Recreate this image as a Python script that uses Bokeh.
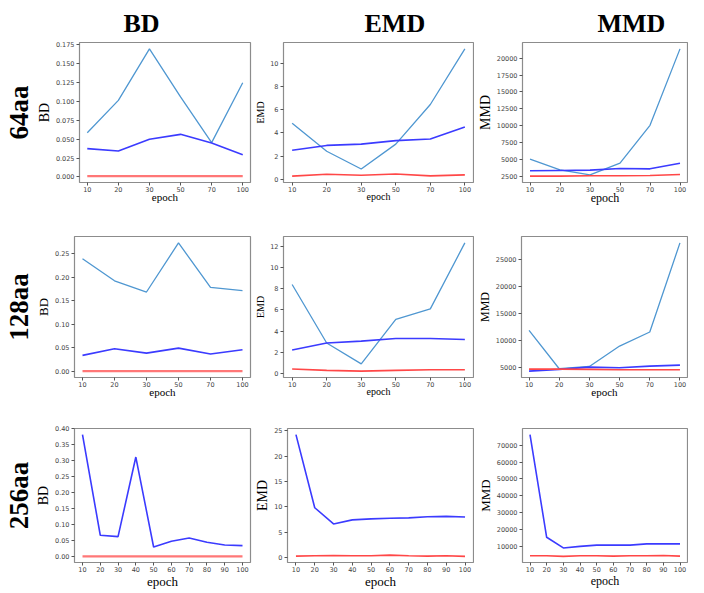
from bokeh.plotting import figure
from bokeh.layouts import column, row
from bokeh.models import (Range1d, FixedTicker, SingleIntervalTicker,
                          PrintfTickFormatter, LinearAxis)
from bokeh.embed import file_html
from bokeh.resources import INLINE

col_titles = ["BD", "EMD", "MMD"]
row_titles = ["64aa", "128aa", "256aa"]

epochs_short = [10, 20, 30, 50, 70, 100]
epochs_long = [10, 20, 30, 40, 50, 60, 70, 80, 90, 100]

# ---- 64aa ----
bd64_light = [0.0586, 0.1014, 0.1697, 0.1060, 0.0454, 0.1248]
bd64_blue = [0.0375, 0.0344, 0.0498, 0.0564, 0.0450, 0.0295]
bd64_red = [0.001, 0.001, 0.001, 0.001, 0.001, 0.001]
emd64_light = [4.83, 2.42, 0.89, 3.03, 6.44, 11.22]
emd64_blue = [2.50, 2.92, 3.03, 3.33, 3.47, 4.50]
emd64_red = [0.28, 0.44, 0.36, 0.47, 0.30, 0.39]
mmd64_light = [5056, 3483, 2746, 4466, 10071, 21379]
mmd64_blue = [3336, 3385, 3434, 3680, 3630, 4466]
mmd64_red = [2550, 2550, 2600, 2600, 2650, 2795]

# ---- 128aa ----
bd128_light = [0.2395, 0.1926, 0.1688, 0.2730, 0.1786, 0.1716]
bd128_blue = [0.0343, 0.0483, 0.0392, 0.0497, 0.0371, 0.0462]
bd128_red = [0.001, 0.001, 0.001, 0.001, 0.001, 0.001]
emd128_light = [8.39, 2.88, 0.92, 5.11, 6.09, 12.30]
emd128_blue = [2.23, 2.88, 3.06, 3.31, 3.31, 3.21]
emd128_red = [0.43, 0.31, 0.24, 0.31, 0.37, 0.37]
mmd128_light = [11811, 4690, 5124, 8901, 11502, 28034]
mmd128_blue = [4257, 4567, 5000, 4876, 5186, 5372]
mmd128_red = [4628, 4628, 4567, 4505, 4505, 4505]

# ---- 256aa ----
bd256_blue = [0.381, 0.067, 0.0628, 0.311, 0.0304, 0.0482, 0.0586, 0.045, 0.0366, 0.0346]
bd256_red = [0.001, 0.001, 0.001, 0.001, 0.001, 0.001, 0.001, 0.001, 0.001, 0.001]
emd256_blue = [24.2, 9.85, 6.67, 7.48, 7.67, 7.79, 7.86, 8.10, 8.17, 8.04]
emd256_red = [0.37, 0.44, 0.50, 0.44, 0.44, 0.56, 0.44, 0.37, 0.44, 0.31]
mmd256_blue = [76200, 15556, 9259, 10185, 10926, 10926, 10926, 11667, 11667, 11667]
mmd256_red = [4630, 4630, 4259, 4630, 4630, 4444, 4630, 4630, 4815, 4444]

LIGHT = "#4f97d1"
BLUE = "#3b3bff"
RED = "#ff4747"
RED_BD = "#ff7777"

SERIF = "Liberation Serif"
SANS = "DejaVu Sans"

col_w = [252, 222, 214]
row_h = [213, 192, 186]
# borders (left, right, top, bottom)
borders = [
    [(68, 2, 42, 30), (25, 1, 42, 27), (43, 1, 42, 31)],
    [(63, 2, 20, 28), (26, 1, 20, 28), (42, 1, 23, 28)],
    [(63, 2, 22, 24), (31, 1, 23, 24), (41, 1, 21, 23)],
]
title_offsets = [44, 81, 75]
ylabel_sizes = [["14px", "10px", "14px"], ["13px", "10px", "12px"], ["14px", "14px", "13px"]]
xlabel_sizes = [["11px", "10px", "12px"], ["11px", "10px", "11px"], ["13px", "13px", "12px"]]
xlabel_standoff = [-4, -4, -1]
y_intervals = [[0.025, 2, 2500], [0.05, 2, 5000], [0.05, 5, 10000]]
y_formats = [["%.3f", "%d", "%d"], ["%.2f", "%d", "%d"], ["%.2f", "%d", "%d"]]

data = [
    [(bd64_light, bd64_blue, bd64_red), (emd64_light, emd64_blue, emd64_red), (mmd64_light, mmd64_blue, mmd64_red)],
    [(bd128_light, bd128_blue, bd128_red), (emd128_light, emd128_blue, emd128_red), (mmd128_light, mmd128_blue, mmd128_red)],
    [(None, bd256_blue, bd256_red), (None, emd256_blue, emd256_red), (None, mmd256_blue, mmd256_red)],
]


def padded(lo, hi):
    d = (hi - lo) * 0.05
    return lo - d, hi + d


def make(r, c):
    bl, br, bt, bb = borders[r][c]
    light, blue, red = data[r][c]
    if r < 2:
        xs = list(range(len(epochs_short)))
        xlabels = {i: str(e) for i, e in enumerate(epochs_short)}
    else:
        xs = list(epochs_long)
        xlabels = None
    allv = [v for s in (light, blue, red) if s is not None for v in s]
    x0, x1 = padded(min(xs), max(xs))
    y0, y1 = padded(min(allv), max(allv))
    p = figure(width=col_w[c], height=row_h[r], output_backend="svg",
               toolbar_location=None, x_range=Range1d(x0, x1), y_range=Range1d(y0, y1),
               min_border_left=bl, min_border_right=br, min_border_top=bt,
               min_border_bottom=bb)
    p.grid.visible = False
    p.outline_line_color = "#8c8c8c"
    p.outline_line_width = 1.2
    p.background_fill_color = "white"
    p.border_fill_color = "white"

    p.xaxis.ticker = FixedTicker(ticks=xs)
    if xlabels is not None:
        p.xaxis.major_label_overrides = xlabels
    p.yaxis.ticker = SingleIntervalTicker(interval=y_intervals[r][c])
    p.yaxis.formatter = PrintfTickFormatter(format=y_formats[r][c])

    for ax in (p.xaxis[0], p.yaxis[0]):
        ax.axis_line_color = None
        ax.major_tick_out = 3
        ax.major_tick_in = 0
        ax.major_tick_line_color = "#555555"
        ax.minor_tick_line_color = None
        ax.major_label_text_font = SANS
        ax.major_label_text_font_size = "6.5px"
        ax.major_label_text_color = "#444444"
        ax.major_label_standoff = 1
        ax.axis_label_text_font = SERIF
        ax.axis_label_text_font_style = "normal"
        ax.axis_label_text_color = "black"
    p.xaxis.axis_label = "epoch"
    p.xaxis.axis_label_standoff = xlabel_standoff[r]
    p.xaxis.axis_label_text_font_size = xlabel_sizes[r][c]
    p.yaxis.axis_label = col_titles[c]
    p.yaxis.axis_label_standoff = 1
    p.yaxis.axis_label_text_font_size = ylabel_sizes[r][c]

    if light is not None:
        p.line(xs, light, line_color=LIGHT, line_width=1.3)
    p.line(xs, blue, line_color=BLUE, line_width=1.6)
    if c == 0:
        p.line(xs, red, line_color=RED_BD, line_width=2.4)
    else:
        p.line(xs, red, line_color=RED, line_width=1.6)

    if c == 0:
        rl = LinearAxis(axis_label=row_titles[r], ticker=FixedTicker(ticks=[]),
                        major_tick_out=0, major_tick_in=0, minor_tick_out=0,
                        minor_tick_in=0, major_label_standoff=0,
                        axis_label_standoff=0, axis_line_color=None,
                        major_label_text_font_size="0px",
                        axis_label_text_font=SERIF,
                        axis_label_text_font_style="bold",
                        axis_label_text_font_size="27px",
                        axis_label_text_color="black")
        p.add_layout(rl, "left")

    if r == 0:
        p.title.text = col_titles[c]
        p.title.align = "left"
        p.title.offset = title_offsets[c]
        p.title.text_font = SERIF
        p.title.text_font_style = "bold"
        p.title.text_font_size = "26px"
        p.title.text_color = "black"
        p.title.standoff = 10
    return p


rows = []
for r in range(3):
    rows.append(row(*[make(r, c) for c in range(3)], spacing=0))
layout = column(*rows, spacing=0)

open("out.html", "w").write(file_html(layout, INLINE))
